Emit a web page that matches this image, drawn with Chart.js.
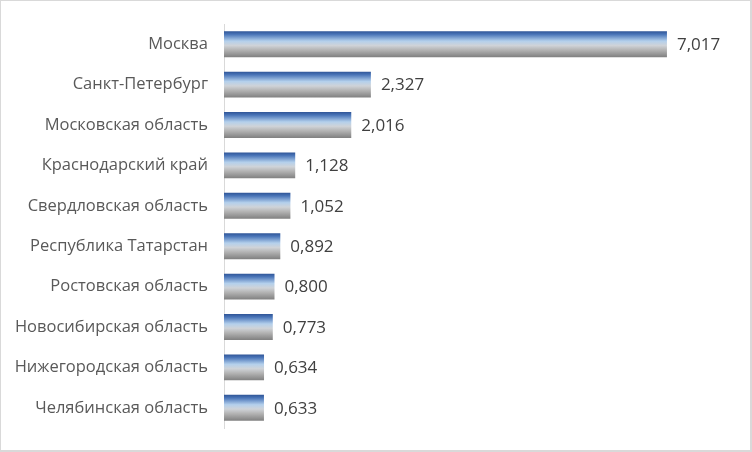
<!DOCTYPE html>
<html>
<head>
<meta charset="utf-8">
<script src="https://cdn.jsdelivr.net/npm/chart.js@4"></script>
<style>
  html, body { margin: 0; padding: 0; background: #fff; }
  #wrap {
    width: 752px; height: 452px; box-sizing: border-box;
    border-top: 1px solid #d9d9d9; border-left: 1px solid #d9d9d9;
    border-right: 2px solid #d9d9d9; border-bottom: 2px solid #d9d9d9;
    position: relative;
  }
  canvas { display: block; }
</style>
</head>
<body>
<div id="wrap"><canvas id="regionChart" width="749" height="449"></canvas></div>
<script>
// chart data
const regions = [
  "Москва",
  "Санкт-Петербург",
  "Московская область",
  "Краснодарский край",
  "Свердловская область",
  "Республика Татарстан",
  "Ростовская область",
  "Новосибирская область",
  "Нижегородская область",
  "Челябинская область"
];
const values = [7.017, 2.327, 2.016, 1.128, 1.052, 0.892, 0.800, 0.773, 0.634, 0.633];
const valueLabels = ["7,017", "2,327", "2,016", "1,128", "1,052", "0,892", "0,800", "0,773", "0,634", "0,633"];

const FONT = "'Open Sans', 'Noto Sans', sans-serif";

// blue -> light -> gray gradient for each bar
function barGradient(context) {
  const chart = context.chart;
  const area = chart.chartArea;
  if (!area || context.type !== "data") return "#9dc3e6";
  const y = chart.scales.y.getPixelForValue(context.dataIndex);
  const half = (area.bottom - area.top) / regions.length * 0.64 / 2;
  const g = chart.ctx.createLinearGradient(0, y - half, 0, y + half);
  g.addColorStop(0, "#2f5597");
  g.addColorStop(0.12, "#4a75b8");
  g.addColorStop(0.38, "#b4d0ec");
  g.addColorStop(0.55, "#cfd3d8");
  g.addColorStop(0.72, "#b4b4b4");
  g.addColorStop(1, "#808080");
  return g;
}

// draw the value labels right of the bars
const valueLabelPlugin = {
  id: "valueLabels",
  afterDatasetsDraw(chart) {
    const ctx = chart.ctx;
    const meta = chart.getDatasetMeta(0);
    ctx.save();
    ctx.font = "17px " + FONT;
    ctx.fillStyle = "#404040";
    ctx.textAlign = "left";
    ctx.textBaseline = "middle";
    meta.data.forEach((bar, i) => {
      ctx.fillText(valueLabels[i], bar.x + 10, bar.y + 1);
    });
    ctx.restore();
  }
};

const ctx1 = document.getElementById("regionChart").getContext("2d");

const regionChart = new Chart(ctx1, {
  type: "bar",
  data: {
    labels: regions,
    datasets: [
      {
        data: values,
        backgroundColor: barGradient,
        borderWidth: 0,
        categoryPercentage: 1.0,
        barPercentage: 0.64
      }
    ]
  },
  options: {
    indexAxis: "y",
    responsive: false,
    animation: false,
    layout: {
      padding: { top: 23, bottom: 22, left: 0, right: 21 }
    },
    scales: {
      x: {
        display: false,
        min: 0,
        max: 8
      },
      y: {
        afterFit: function (scale) {
          // fixed label column, no extra room for label overflow
          scale.width = 223;
          scale.paddingTop = 0;
          scale.paddingBottom = 0;
        },
        grid: {
          display: true,
          drawOnChartArea: false,
          drawTicks: false
        },
        border: {
          display: true,
          color: "#d9d9d9",
          width: 1
        },
        ticks: {
          padding: 16,
          color: "#595959",
          font: { family: FONT, size: 16.5 }
        }
      }
    },
    plugins: {
      legend: { display: false },
      tooltip: { enabled: false }
    }
  },
  plugins: [valueLabelPlugin]
});
</script>
</body>
</html>
